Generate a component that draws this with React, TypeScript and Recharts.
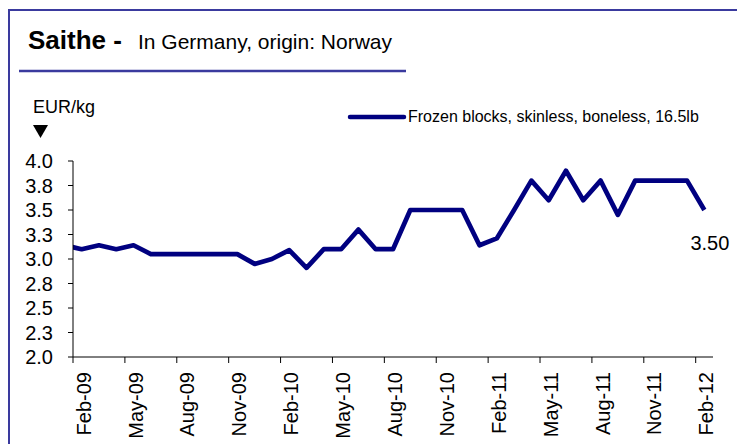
import { LineChart, Line, XAxis, YAxis, Legend } from "recharts";

// monthly price, first entry (Jan-09) sits just left of the axis and gets clipped
const months = [
  "Jan-09", "Feb-09", "Mar-09", "Apr-09", "May-09", "Jun-09", "Jul-09", "Aug-09",
  "Sep-09", "Oct-09", "Nov-09", "Dec-09", "Jan-10", "Feb-10", "Mar-10", "Apr-10",
  "May-10", "Jun-10", "Jul-10", "Aug-10", "Sep-10", "Oct-10", "Nov-10", "Dec-10",
  "Jan-11", "Feb-11", "Mar-11", "Apr-11", "May-11", "Jun-11", "Jul-11", "Aug-11",
  "Sep-11", "Oct-11", "Nov-11", "Dec-11", "Jan-12", "Feb-12",
];

const prices = [
  3.14, 3.1, 3.14, 3.1, 3.14, 3.05, 3.05, 3.05,
  3.05, 3.05, 3.05, 2.95, 3.0, 3.09, 2.91, 3.1,
  3.1, 3.3, 3.1, 3.1, 3.5, 3.5, 3.5, 3.5,
  3.14, 3.21, 3.5, 3.8, 3.6, 3.9, 3.6, 3.8,
  3.45, 3.8, 3.8, 3.8, 3.8, 3.5,
];

const xTicks = [1, 4, 7, 10, 13, 16, 19, 22, 25, 28, 31, 34, 37];
const yTicks = [2, 2.25, 2.5, 2.75, 3, 3.25, 3.5, 3.75, 4];

const seriesName = "Frozen blocks, skinless, boneless, 16.5lb";

const data = months.map((m, i) => ({ idx: i, month: m, price: prices[i] }));

const W = 737;
const H = 444;
const PLOT_LEFT = 73;
const PLOT_RIGHT = 24;
const PLOT_TOP = 161;
const X_AXIS_H = 87;
const HALF_STEP = (W - PLOT_LEFT - PLOT_RIGHT) / (months.length - 1) / 2;
const FONT = '"Liberation Sans", Arial, Helvetica, sans-serif';
const NAVY = "#000080";
const FRAME = "#3a3a9e";

function MonthTick(props: any) {
  const { x, y, payload } = props;
  return (
    <g>
      <line x1={x - HALF_STEP} x2={x - HALF_STEP} y1={y} y2={y + 6} stroke="#000" />
      <text
        transform={`translate(${x + 9}, ${y + 15}) rotate(-90)`}
        textAnchor="end"
        fontSize={20}
        fill="#000"
        fontFamily={FONT}
      >
        {months[payload.value]}
      </text>
    </g>
  );
}

function LastLabel(props: any) {
  const { x, y, index, value } = props;
  if (index !== data.length - 1) return null;
  return (
    <text x={x + 25} y={y + 40} textAnchor="end" fontSize={20} fill="#000" fontFamily={FONT}>
      {Number(value).toFixed(2)}
    </text>
  );
}

function LegendLine(props: any) {
  const item = props.payload?.[0];
  return (
    <div style={{ display: "flex", alignItems: "center", fontFamily: FONT, fontSize: 16, whiteSpace: "nowrap" }}>
      <svg width={61} height={8} style={{ display: "block" }}>
        <line x1={3} x2={57} y1={4} y2={4} stroke={item?.color || NAVY} strokeWidth={4.5} strokeLinecap="round" />
      </svg>
      <span style={{ color: "#000" }}>{item?.value || seriesName}</span>
    </div>
  );
}

export default function App() {
  return (
    <div
      style={{
        position: "absolute",
        left: 0,
        top: 0,
        width: W,
        height: H,
        overflow: "hidden",
        background: "#fff",
        fontFamily: FONT,
      }}
    >
      <svg width={W} height={H} style={{ position: "absolute", left: 0, top: 0 }}>
        <line x1={9} x2={9} y1={9} y2={H} stroke={FRAME} strokeWidth={2} />
        <line x1={8} x2={W} y1={10} y2={10} stroke={FRAME} strokeWidth={2} />
        <text x={28} y={49} fontSize={26} fontWeight="bold" fontFamily={FONT} fill="#000">
          Saithe -
        </text>
        <text x={138} y={49} fontSize={21} fontFamily={FONT} fill="#000">
          In Germany, origin: Norway
        </text>
        <line x1={19} x2={406} y1={71} y2={71} stroke={FRAME} strokeWidth={2.5} />
        <text x={33} y={113} fontSize={18} fontFamily={FONT} fill="#000">
          EUR/kg
        </text>
        <polygon points="33,125 48,125 40.5,138" fill="#000" />
      </svg>
      <div style={{ position: "absolute", left: 0, top: 0 }}>
        <LineChart
          width={W}
          height={H}
          data={data}
          margin={{ top: PLOT_TOP, right: PLOT_RIGHT, bottom: 0, left: 0 }}
        >
          <XAxis
            type="number"
            dataKey="idx"
            domain={[0.5, 37.5]}
            ticks={xTicks}
            interval={0}
            allowDataOverflow
            height={X_AXIS_H}
            stroke="#000"
            tickLine={false}
            tickSize={0}
            tickMargin={0}
            tick={<MonthTick />}
          />
          <YAxis
            domain={[2, 4]}
            ticks={yTicks}
            interval={0}
            width={PLOT_LEFT}
            stroke="#000"
            tickSize={5}
            tickMargin={15}
            tickFormatter={(v: number) => v.toFixed(1)}
            tick={{ fill: "#000", fontSize: 20, fontFamily: FONT }}
          />
          <Legend
            layout="horizontal"
            verticalAlign="middle"
            align="center"
            content={<LegendLine />}
            wrapperStyle={{ top: 108, left: 347, width: "auto", height: 20 }}
          />
          <Line
            type="linear"
            dataKey="price"
            name={seriesName}
            stroke={NAVY}
            strokeWidth={4.7}
            strokeLinejoin="round"
            dot={false}
            activeDot={false}
            isAnimationActive={false}
            label={<LastLabel />}
          />
        </LineChart>
      </div>
    </div>
  );
}
